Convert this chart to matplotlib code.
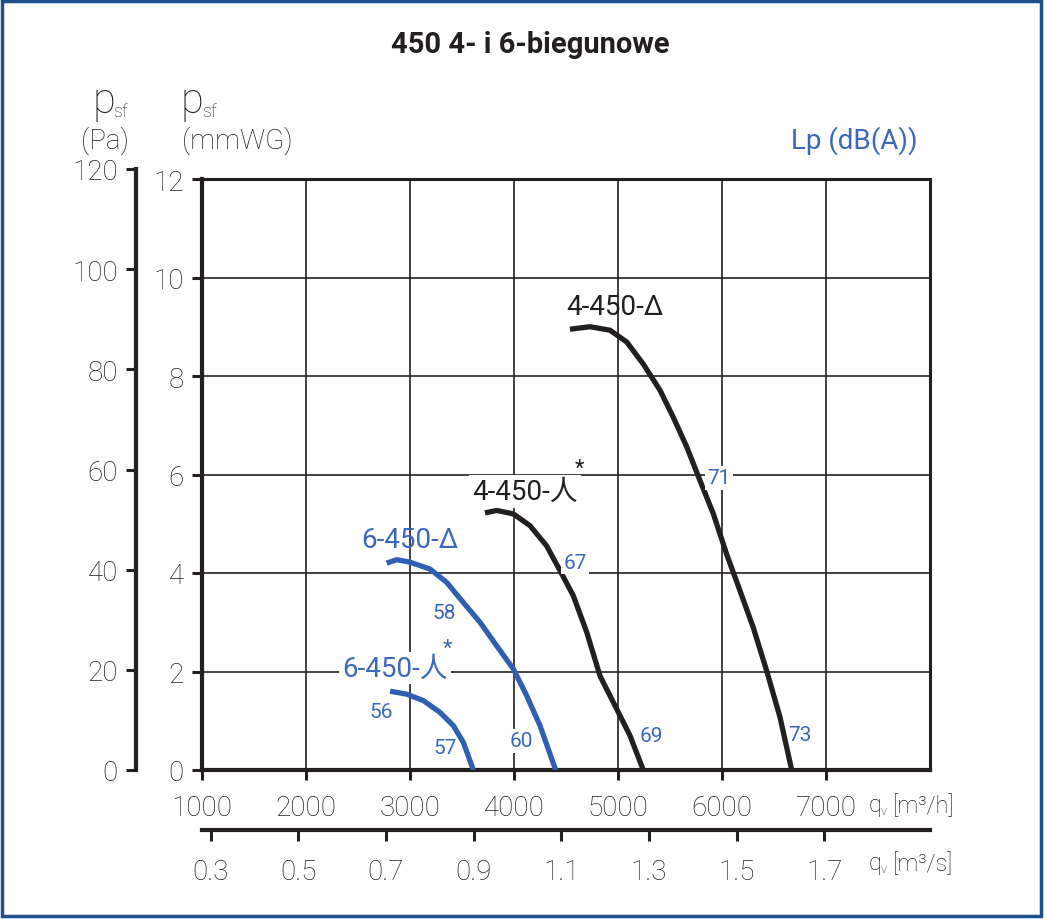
import matplotlib
matplotlib.use("Agg")
import matplotlib.pyplot as plt
import warnings
warnings.filterwarnings("ignore")

#%% DATA
title = "450 4- i 6-biegunowe"
x_ticks = [1000, 2000, 3000, 4000, 5000, 6000, 7000]
y_ticks = [0, 2, 4, 6, 8, 10, 12]
pa_ticks = [0, 20, 40, 60, 80, 100, 120]
ms_ticks = [0.3, 0.5, 0.7, 0.9, 1.1, 1.3, 1.5, 1.7]

# curves: q [m3/h], p [mmWG]
q_4d = [4538, 4731, 4923, 5084, 5244, 5404, 5532, 5661, 5788, 5917, 6045, 6173, 6301, 6430, 6558, 6670]
p_4d = [8.95, 9.00, 8.93, 8.69, 8.24, 7.71, 7.16, 6.56, 5.88, 5.20, 4.38, 3.64, 2.89, 2.01, 1.07, 0.0]
q_4y = [3721, 3834, 3994, 4154, 4314, 4442, 4570, 4699, 4827, 4987, 5115, 5243]
p_4y = [5.22, 5.27, 5.20, 4.96, 4.55, 4.05, 3.54, 2.80, 1.91, 1.24, 0.70, 0.0]
q_6d = [2776, 2872, 3000, 3192, 3353, 3513, 3673, 3834, 3994, 4122, 4250, 4401]
p_6d = [4.20, 4.27, 4.22, 4.08, 3.81, 3.40, 3.00, 2.52, 2.05, 1.51, 0.90, 0.0]
q_6y = [2808, 2968, 3128, 3288, 3417, 3513, 3609]
p_6y = [1.60, 1.54, 1.41, 1.17, 0.90, 0.56, 0.0]

# sound levels Lp dB(A) and where they sit
lp_vals = ["71", "67", "58", "56", "57", "60", "69", "73"]
lp_q = [5971, 4587, 3327, 2721, 3337, 4067, 5317, 6750]
lp_p = [5.93, 4.22, 3.20, 1.18, 0.45, 0.59, 0.71, 0.73]
lp_box = [True, True, False, False, False, True, False, False]

#%% STYLE
FONT = ["Roboto", "Noto Sans CJK SC", "DejaVu Sans"]
plt.rcParams["font.family"] = FONT
plt.rcParams["font.weight"] = "light"
DARK = "#231f20"
BLUE = "#2f5fb3"
TBLUE = "#3a68bb"

def ms_to_pos(v):
    # the m3/s scale in the original is drawn on its own spacing
    return 1083 + (v - 0.3) / 0.2 * 843

#%% PLOT
fig = plt.figure(figsize=(10.45, 9.2), dpi=100)
W, H = 1045, 920

def fx(px):
    return px / W

def fy(py):
    return 1 - py / H

ax = fig.add_axes([fx(202), fy(771), fx(930) - fx(202), fy(180) - fy(771)])
ax.set_xlim(1000, 8000)
ax.set_ylim(0, 12)
ax.set_xticks(x_ticks)
ax.set_yticks(y_ticks)
ax.set_xticklabels([str(t) for t in x_ticks])
ax.set_yticklabels([str(t) for t in y_ticks])
ax.grid(True, color=DARK, lw=1.2)
ax.set_axisbelow(True)
for s in ["left", "bottom"]:
    ax.spines[s].set_linewidth(3.0)
for s in ["top", "right"]:
    ax.spines[s].set_linewidth(2.2)
for s in ax.spines.values():
    s.set_color(DARK)
ax.tick_params(axis="both", direction="out", length=7, width=2.2,
               color=DARK, labelsize=20, labelcolor=DARK)
ax.tick_params(axis="x", pad=10)
ax.tick_params(axis="y", pad=6)

ax.plot(q_4d, p_4d, color=DARK, lw=3.8, solid_capstyle="butt", zorder=3)
ax.plot(q_4y, p_4y, color=DARK, lw=3.8, solid_capstyle="butt", zorder=3)
ax.plot(q_6d, p_6d, color=BLUE, lw=3.8, solid_capstyle="butt", zorder=3)
ax.plot(q_6y, p_6y, color=BLUE, lw=3.8, solid_capstyle="butt", zorder=3)

wbox = dict(facecolor="white", edgecolor="none", pad=1.5)
ax.text(4971, 9.42, "4-450-Δ", color=DARK, fontsize=20, fontweight="normal",
        ha="center", va="center", zorder=4)
ax.text(4106, 5.66, "4-450-人", color=DARK, fontsize=20, fontweight="normal",
        ha="center", va="center",
        bbox=dict(facecolor="white", edgecolor="none", pad=2), zorder=4)
ax.text(4625, 6.12, "*", color=DARK, fontsize=16, fontweight="normal",
        ha="center", va="center", zorder=5)
ax.text(3000, 4.69, "6-450-Δ", color=TBLUE, fontsize=20, fontweight="normal",
        ha="center", va="center", zorder=4)
ax.text(2856, 2.07, "6-450-人", color=TBLUE, fontsize=20, fontweight="normal",
        ha="center", va="center",
        bbox=dict(facecolor="white", edgecolor="none", pad=2), zorder=4)
ax.text(3360, 2.48, "*", color=TBLUE, fontsize=16, fontweight="normal",
        ha="center", va="center", zorder=5)

for v, q, p, b in zip(lp_vals, lp_q, lp_p, lp_box):
    ax.text(q, p, v, color=TBLUE, fontsize=15, fontweight="normal",
            ha="center", va="center", bbox=wbox if b else None, zorder=4)

# Pa axis on the left
ax_pa = fig.add_axes([fx(136), fy(771), 0.001, fy(170) - fy(771)])
ax_pa.set_ylim(0, 120)
ax_pa.set_yticks(pa_ticks)
ax_pa.set_yticklabels([str(t) for t in pa_ticks])
ax_pa.set_xticks([])
for s in ["top", "right", "bottom"]:
    ax_pa.spines[s].set_visible(False)
ax_pa.spines["left"].set_linewidth(3.0)
ax_pa.spines["left"].set_color(DARK)
ax_pa.patch.set_visible(False)
ax_pa.tick_params(axis="y", direction="out", length=7, width=2.2, color=DARK,
                  labelsize=20, labelcolor=DARK, pad=6)

# m3/s axis below
ax_ms = fig.add_axes([fx(202), fy(831), fx(930) - fx(202), 0.001])
ax_ms.set_xlim(1000, 8000)
ax_ms.set_xticks([ms_to_pos(v) for v in ms_ticks])
ax_ms.set_xticklabels([f"{v:.1f}" for v in ms_ticks])
ax_ms.set_yticks([])
for s in ["top", "right", "left"]:
    ax_ms.spines[s].set_visible(False)
ax_ms.spines["bottom"].set_linewidth(3.0)
ax_ms.spines["bottom"].set_color(DARK)
ax_ms.patch.set_visible(False)
ax_ms.tick_params(axis="x", direction="out", length=8, width=2.2, color=DARK,
                  labelsize=20, labelcolor=DARK, pad=12)

# texts around
fig.text(fx(530), fy(45), title, fontsize=21, fontweight="bold", color=DARK,
         ha="center", va="center", family=["Roboto", "DejaVu Sans"])
fig.text(fx(92), fy(113), "p", fontsize=30, color=DARK, ha="left", va="baseline")
fig.text(fx(113), fy(117), "sf", fontsize=13, color=DARK, ha="left", va="baseline")
fig.text(fx(181), fy(113), "p", fontsize=30, color=DARK, ha="left", va="baseline")
fig.text(fx(202), fy(117), "sf", fontsize=13, color=DARK, ha="left", va="baseline")
fig.text(fx(105), fy(141), "(Pa)", fontsize=20, color=DARK, ha="center", va="center")
fig.text(fx(237), fy(141), "(mmWG)", fontsize=20, color=DARK, ha="center", va="center")
fig.text(fx(918), fy(141), "Lp (dB(A))", fontsize=20, fontweight="normal", color=TBLUE,
         ha="right", va="center")
fig.text(fx(869), fy(812), "q", fontsize=17, color=DARK, ha="left", va="baseline")
fig.text(fx(881), fy(815), "v", fontsize=9, color=DARK, ha="left", va="baseline")
fig.text(fx(893), fy(806), "[m³/h]", fontsize=17, color=DARK, ha="left", va="center")
fig.text(fx(869), fy(870), "q", fontsize=17, color=DARK, ha="left", va="baseline")
fig.text(fx(881), fy(873), "v", fontsize=9, color=DARK, ha="left", va="baseline")
fig.text(fx(893), fy(864), "[m³/s]", fontsize=17, color=DARK, ha="left", va="center")

# frame
frame = plt.Rectangle((fx(2), fy(917)), fx(1041) - fx(2), fy(2) - fy(917),
                      transform=fig.transFigure, fill=False, edgecolor="#1d4f8a", lw=2.5)
fig.patches.append(frame)

fig.savefig("out.png", dpi=100)
